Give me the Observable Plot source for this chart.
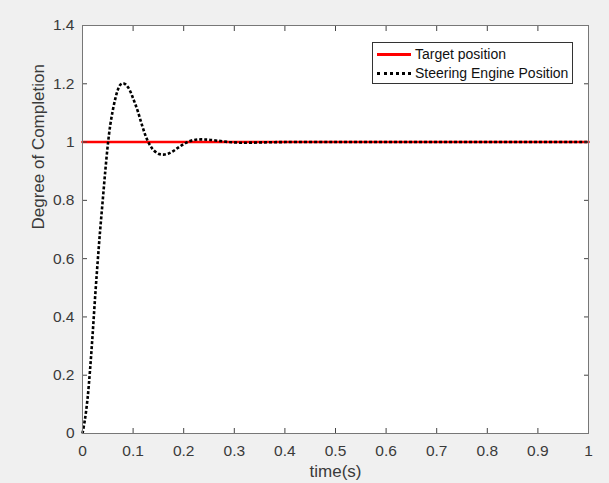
<!DOCTYPE html>
<html>
<head>
<meta charset="utf-8">
<script src="https://cdn.jsdelivr.net/npm/d3@7"></script>
<script src="https://cdn.jsdelivr.net/npm/@observablehq/plot@0.6"></script>
<style>
  html, body { margin: 0; padding: 0; background: #f0f0f0; }
  #wrap { position: relative; width: 609px; height: 483px; font-family: "Liberation Sans", Arial, sans-serif; }
  #legend { position: absolute; left: 372px; top: 42px; width: 199px; height: 40px; border: 1px solid #333; background: #fff; font-size: 14px; color: #111; }
  .row { position: absolute; left: 0; height: 20px; line-height: 20px; white-space: nowrap; }
  .sw { position: absolute; left: 4px; width: 34px; top: 9px; }
  .lbl { position: absolute; left: 42px; top: 0; }
</style>
</head>
<body>
<div id="wrap"></div>
<script>
// Time axis (s) and step response
const time = [0, 0.005, 0.01, 0.015, 0.02, 0.025, 0.03, 0.035, 0.04, 0.045, 0.05, 0.055, 0.06, 0.065, 0.07, 0.075, 0.08, 0.085, 0.09, 0.095, 0.1, 0.105, 0.11, 0.115, 0.12, 0.125, 0.13, 0.135, 0.14, 0.15, 0.16, 0.17, 0.18, 0.19, 0.2, 0.21, 0.22, 0.23, 0.24, 0.25, 0.27, 0.29, 0.31, 0.33, 0.36, 0.4, 0.5, 0.6, 0.7, 0.8, 0.9, 1.0];
const steering = [0, 0.05, 0.12, 0.22, 0.34, 0.47, 0.59, 0.70, 0.80, 0.90, 0.99, 1.06, 1.11, 1.15, 1.18, 1.197, 1.202, 1.198, 1.188, 1.172, 1.15, 1.127, 1.102, 1.073, 1.045, 1.02, 1.0, 0.985, 0.973, 0.960, 0.957, 0.961, 0.970, 0.982, 0.993, 1.002, 1.007, 1.009, 1.009, 1.008, 1.004, 1.000, 0.998, 0.998, 0.999, 1.0, 1.0, 1.0, 1.0, 1.0, 1.0, 1.0];
const targetTime = [0, 1];
const targetValue = [1, 1];
const xTicks = [0, 0.1, 0.2, 0.3, 0.4, 0.5, 0.6, 0.7, 0.8, 0.9, 1];
const yTicks = [0, 0.2, 0.4, 0.6, 0.8, 1, 1.2, 1.4];
const seriesNames = ["Target position", "Steering Engine Position"];
const xLabel = "time(s)";
const yLabel = "Degree of Completion";

const steeringData = time.map((t, i) => ({t, v: steering[i]}));
const targetData = targetTime.map((t, i) => ({t, v: targetValue[i]}));

const axisColor = "#444";
const textColor = "#3a3a3a";
const fmt = d => String(d);

const chart = Plot.plot({
  width: 609,
  height: 483,
  marginLeft: 82,
  marginRight: 21,
  marginTop: 25,
  marginBottom: 50,
  style: { background: "transparent", fontFamily: "Liberation Sans, Arial, sans-serif", fontSize: "15.5px", color: textColor, overflow: "visible" },
  x: { domain: [0, 1] },
  y: { domain: [0, 1.4] },
  marks: [
    Plot.frame({ fill: "white", stroke: null }),
    Plot.line(targetData, { x: "t", y: "v", stroke: "#ff0000", strokeWidth: 2.6 }),
    Plot.line(steeringData, { x: "t", y: "v", stroke: "#000", strokeWidth: 2.6, strokeDasharray: "3,2", strokeLinecap: "butt", strokeLinejoin: "miter", curve: "catmull-rom" }),
    Plot.axisX({ ticks: xTicks, tickSize: 0, tickPadding: 11, tickFormat: fmt, label: null, fill: textColor }),
    Plot.axisY({ ticks: yTicks, tickSize: 0, tickPadding: 8, tickFormat: fmt, label: null, fill: textColor }),
    Plot.axisX({ anchor: "bottom", ticks: xTicks, tickSize: -5, tickFormat: () => "", label: null, stroke: axisColor }),
    Plot.axisX({ anchor: "top", ticks: xTicks, tickSize: -5, tickFormat: () => "", label: null, stroke: axisColor }),
    Plot.axisY({ anchor: "left", ticks: yTicks, tickSize: -5, tickFormat: () => "", label: null, stroke: axisColor }),
    Plot.axisY({ anchor: "right", ticks: yTicks, tickSize: -5, tickFormat: () => "", label: null, stroke: axisColor }),
    Plot.frame({ stroke: "#777", strokeWidth: 1 }),
    Plot.text([yLabel], { frameAnchor: "left", dx: -44, rotate: -90, fontSize: 17, fill: textColor }),
    Plot.text([xLabel], { frameAnchor: "bottom", dy: 43, fontSize: 17, fill: textColor })
  ]
});

const wrap = document.getElementById("wrap");
wrap.appendChild(chart);

const legend = document.createElement("div");
legend.id = "legend";
legend.innerHTML = `
  <div class="row" style="top:1px;width:100%"><div class="sw" style="border-top:3px solid #ff0000"></div><div class="lbl">${seriesNames[0]}</div></div>
  <div class="row" style="top:20px;width:100%"><div class="sw" style="border-top:3px dotted #000"></div><div class="lbl">${seriesNames[1]}</div></div>`;
wrap.appendChild(legend);
</script>
</body>
</html>
